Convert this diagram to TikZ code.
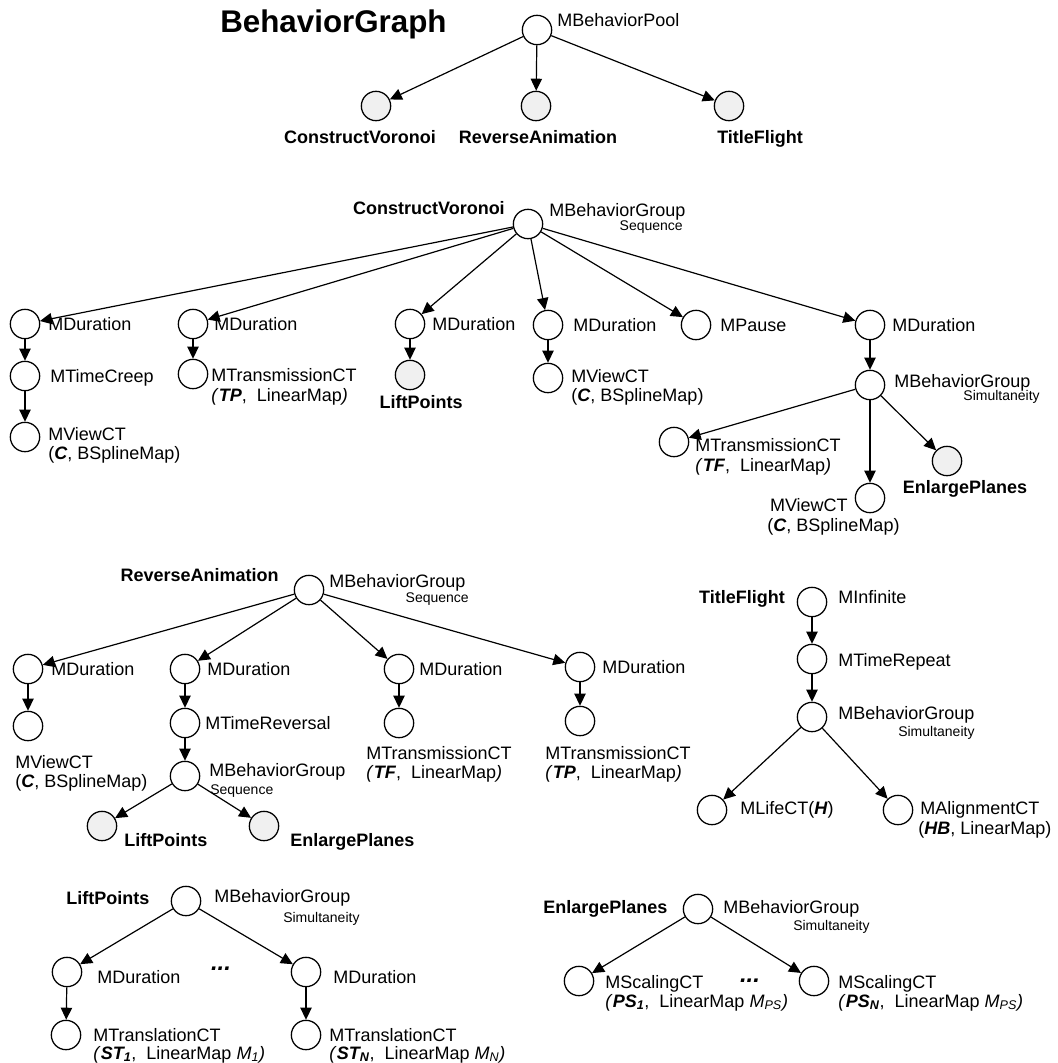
\documentclass[tikz,border=0pt]{standalone}
\usepackage{fontspec}
\setmainfont{Liberation Sans}
\usetikzlibrary{arrows.meta}
\newcommand\kw[1]{\textbf{\textit{#1}}}
\begin{document}
\begin{tikzpicture}[x=0.75pt,y=-0.75pt,
  nd/.style={circle, draw, line width=0.95pt, minimum size=22pt, inner sep=0pt, fill=white},
  gnd/.style={nd, fill=black!6},
  lab/.style={font=\fontsize{13.5}{15}\selectfont, inner sep=0pt, anchor=base west},
  blab/.style={font=\bfseries\fontsize{13.5}{15}\selectfont, inner sep=0pt},
  sml/.style={font=\fontsize{10.5}{12}\selectfont, inner sep=0pt},
  dots/.style={font=\bfseries\itshape\fontsize{18}{20}\selectfont, inner sep=0pt, anchor=base},
  arr/.style={-{Triangle[length=9pt,width=8.5pt]}, line width=0.9pt},
]
\useasboundingbox (0,0) rectangle (1057,1063);

% ---------------- behaviour pool
\node[font=\bfseries\fontsize{23.5}{26}\selectfont, inner sep=0pt, anchor=base west] (title) at (220,33) {BehaviorGraph};
\node[nd] (pool) at (537,30) {};
\node[lab] (poolL) at (557,27) {MBehaviorPool};
\node[gnd] (cv) at (376,106) {};
\node[gnd] (ra) at (536,106) {};
\node[gnd] (tf) at (729,106) {};
\node[blab, anchor=base] (cvL) at (360,143) {ConstructVoronoi};
\node[blab, anchor=base] (raL) at (538,143) {ReverseAnimation};
\node[blab, anchor=base west] (tfL) at (717,143) {TitleFlight};
\draw[arr] (pool) -- (cv);
\draw[arr] (pool) -- (ra);
\draw[arr] (pool) -- (tf);

% ---------------- ConstructVoronoi
\node[blab, anchor=base east] (cvT) at (505,214) {ConstructVoronoi};
\node[nd] (r2) at (528,224) {};
\node[lab] (r2L) at (549,216) {MBehaviorGroup};
\node[sml, anchor=base east] (r2S) at (683,230) {Sequence};

\node[nd] (d1) at (25,324) {};
\node[lab] (d1L) at (48,330) {MDuration};
\node[nd] (tc) at (25,376) {};
\node[lab] (tcL) at (50,382) {MTimeCreep};
\node[nd] (vc1) at (25,437) {};
\node[lab] (vc1L) at (48,440) {MViewCT};
\node[lab] (vc1P) at (48,459) {(\kw{C}, BSplineMap)};

\node[nd] (d2) at (193,324) {};
\node[lab] (d2L) at (214,330) {MDuration};
\node[nd] (tp) at (193,374) {};
\node[lab] (tpL) at (211,381) {MTransmissionCT};
\node[lab] (tpP) at (211,401) {{\itshape(}\kw{TP},~ LinearMap{\itshape)}};

\node[nd] (d3) at (410,324) {};
\node[lab] (d3L) at (432,330) {MDuration};
\node[gnd] (lp) at (410,375) {};
\node[blab, anchor=base] (lpL) at (421,408) {LiftPoints};

\node[nd] (d4) at (548,325) {};
\node[lab] (d4L) at (573,331) {MDuration};
\node[nd] (vc2) at (548,378) {};
\node[lab] (vc2L) at (571,382) {MViewCT};
\node[lab] (vc2P) at (571,401) {(\kw{C}, BSplineMap)};

\node[nd] (ps) at (696,325) {};
\node[lab] (psL) at (720,331) {MPause};

\node[nd] (d6) at (870,325) {};
\node[lab] (d6L) at (892,331) {MDuration};
\node[nd] (bgs) at (870,385) {};
\node[lab] (bgsL) at (894,387) {MBehaviorGroup};
\node[sml, anchor=base east] (bgsS) at (1040,400) {Simultaneity};

\node[nd] (tf2) at (674,442) {};
\node[lab] (tf2L) at (695,451) {MTransmissionCT};
\node[lab] (tf2P) at (695,471) {{\itshape(}\kw{TF},~ LinearMap{\itshape)}};
\node[nd] (vc3) at (870,498) {};
\node[lab, anchor=base east] (vc3L) at (848,511) {MViewCT};
\node[lab, anchor=base west] (vc3P) at (767,531) {(\kw{C}, BSplineMap)};
\node[gnd] (ep) at (947,461) {};
\node[blab, anchor=base] (epL) at (965,493) {EnlargePlanes};

\foreach \t in {d1,d2,d3,d4,ps,d6} \draw[arr] (r2) -- (\t);
\draw[arr] (d1) -- (tc);
\draw[arr] (tc) -- (vc1);
\draw[arr] (d2) -- (tp);
\draw[arr] (d3) -- (lp);
\draw[arr] (d4) -- (vc2);
\draw[arr] (d6) -- (bgs);
\draw[arr] (bgs) -- (tf2);
\draw[arr] (bgs) -- (vc3);
\draw[arr] (bgs) -- (ep);

% ---------------- ReverseAnimation
\node[blab, anchor=base east] (raT) at (279,581) {ReverseAnimation};
\node[nd] (r3) at (309,590) {};
\node[lab] (r3L) at (329,587) {MBehaviorGroup};
\node[sml, anchor=base east] (r3S) at (469,602) {Sequence};

\node[nd] (a) at (28,669) {};
\node[lab] (aL) at (51,675) {MDuration};
\node[nd] (av) at (28,726) {};
\node[lab] (avL) at (15,768) {MViewCT};
\node[lab] (avP) at (15,787) {(\kw{C}, BSplineMap)};

\node[nd] (b) at (185,669) {};
\node[lab] (bL) at (207,675) {MDuration};
\node[nd] (tr) at (185,723) {};
\node[lab] (trL) at (205,729) {MTimeReversal};
\node[nd] (bq) at (185,776) {};
\node[lab] (bqL) at (209,776) {MBehaviorGroup};
\node[sml, anchor=base west] (bqS) at (210,794) {Sequence};
\node[gnd] (lp2) at (102,826) {};
\node[blab, anchor=base west] (lp2L) at (124,846) {LiftPoints};
\node[gnd] (ep2) at (264,826) {};
\node[blab, anchor=base west] (ep2L) at (290,846) {EnlargePlanes};

\node[nd] (c) at (399,669) {};
\node[lab] (cL) at (419,675) {MDuration};
\node[nd] (ct) at (399,723) {};
\node[lab] (ctL) at (366,759) {MTransmissionCT};
\node[lab] (ctP) at (366,778) {{\itshape(}\kw{TF},~ LinearMap{\itshape)}};

\node[nd] (d) at (580,667) {};
\node[lab] (dL) at (602,673) {MDuration};
\node[nd] (dt) at (580,721) {};
\node[lab] (dtL) at (545,759) {MTransmissionCT};
\node[lab] (dtP) at (545,778) {{\itshape(}\kw{TP},~ LinearMap{\itshape)}};

\foreach \t in {a,b,c,d} \draw[arr] (r3) -- (\t);
\draw[arr] (a) -- (av);
\draw[arr] (b) -- (tr);
\draw[arr] (tr) -- (bq);
\draw[arr] (bq) -- (lp2);
\draw[arr] (bq) -- (ep2);
\draw[arr] (c) -- (ct);
\draw[arr] (d) -- (dt);

% ---------------- TitleFlight
\node[blab, anchor=base east] (tfT) at (785,603) {TitleFlight};
\node[nd] (inf) at (812,602) {};
\node[lab] (infL) at (838,603) {MInfinite};
\node[nd] (rep) at (812,659) {};
\node[lab] (repL) at (838,666) {MTimeRepeat};
\node[nd] (bg4) at (812,717) {};
\node[lab] (bg4L) at (838,719) {MBehaviorGroup};
\node[sml, anchor=base west] (bg4S) at (898,736) {Simultaneity};
\node[nd] (life) at (712,810) {};
\node[lab] (lifeL) at (740,814) {MLifeCT(\kw{H})};
\node[nd] (al) at (898,810) {};
\node[lab] (alL) at (920,814) {MAlignmentCT};
\node[lab] (alP) at (918,834) {(\kw{HB}, LinearMap)};
\draw[arr] (inf) -- (rep);
\draw[arr] (rep) -- (bg4);
\draw[arr] (bg4) -- (life);
\draw[arr] (bg4) -- (al);

% ---------------- LiftPoints
\node[blab, anchor=base west] (lpT) at (66,904) {LiftPoints};
\node[nd] (lr) at (186,901) {};
\node[lab] (lrL) at (214,902) {MBehaviorGroup};
\node[sml, anchor=base west] (lrS) at (283,922) {Simultaneity};
\node[nd] (m1) at (67,972) {};
\node[lab] (m1L) at (97,983) {MDuration};
\node[dots] (dots1) at (221,970) {...};
\node[nd] (m2) at (306,972) {};
\node[lab] (m2L) at (333,983) {MDuration};
\node[nd] (t1) at (66,1035) {};
\node[lab] (t1L) at (93,1041) {MTranslationCT};
\node[lab] (t1P) at (93,1059) {{\itshape(}\kw{ST\textsubscript{1}},~ LinearMap \textit{M\textsubscript{1})}};
\node[nd] (t2) at (306,1035) {};
\node[lab] (t2L) at (329,1041) {MTranslationCT};
\node[lab] (t2P) at (329,1059) {{\itshape(}\kw{ST\textsubscript{N}},~ LinearMap \textit{M\textsubscript{N})}};
\draw[arr] (lr) -- (m1);
\draw[arr] (lr) -- (m2);
\draw[arr] (m1) -- (t1);
\draw[arr] (m2) -- (t2);

% ---------------- EnlargePlanes
\node[blab, anchor=base west] (epT) at (543,913) {EnlargePlanes};
\node[nd] (er) at (698,909) {};
\node[lab] (erL) at (723,913) {MBehaviorGroup};
\node[sml, anchor=base west] (erS) at (793,930) {Simultaneity};
\node[nd] (s1) at (579,981) {};
\node[lab] (s1L) at (605,988) {MScalingCT};
\node[lab] (s1P) at (605,1007) {{\itshape(}\kw{PS\textsubscript{1}},~ LinearMap \textit{M\textsubscript{PS})}};
\node[dots] (dots2) at (750,982) {...};
\node[nd] (s2) at (814,981) {};
\node[lab] (s2L) at (838,988) {MScalingCT};
\node[lab] (s2P) at (838,1007) {{\itshape(}\kw{PS\textsubscript{N}},~ LinearMap \textit{M\textsubscript{PS})}};
\draw[arr] (er) -- (s1);
\draw[arr] (er) -- (s2);
\end{tikzpicture}
\end{document}
